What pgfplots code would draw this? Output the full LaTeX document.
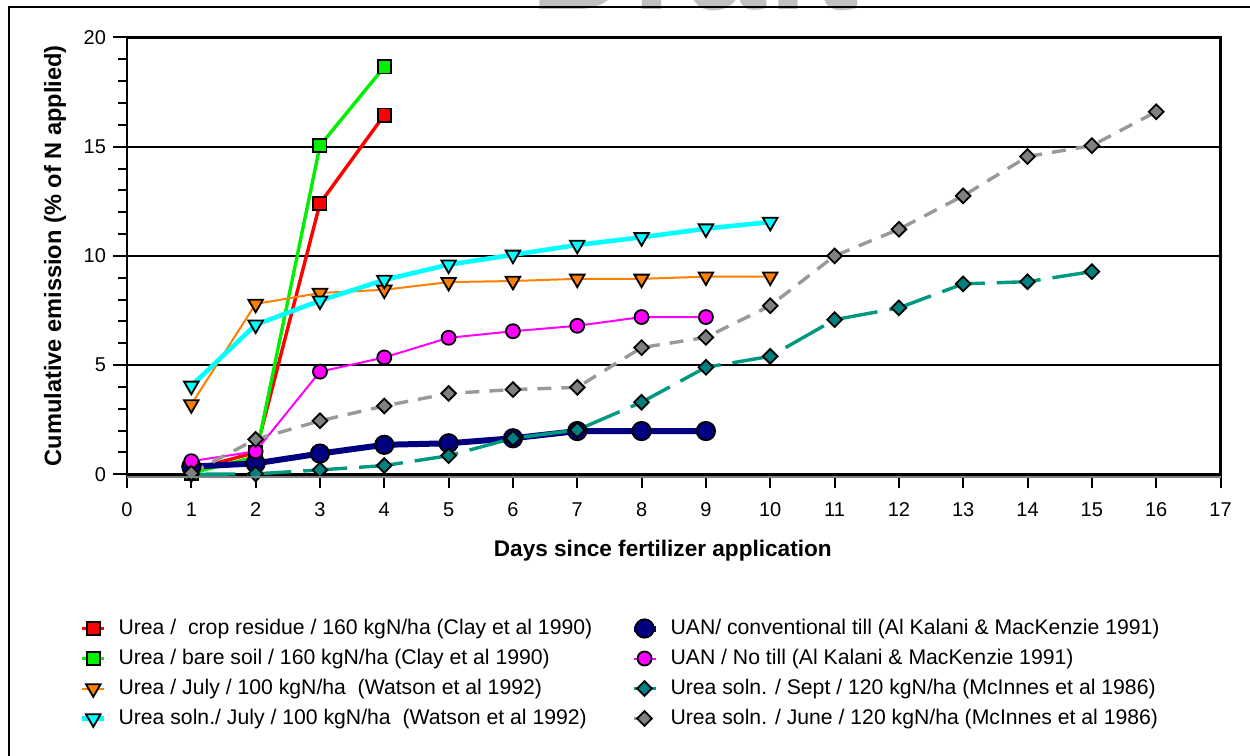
\documentclass[border=0pt]{standalone}
\usepackage{fontspec}
\setmainfont{Liberation Sans}
\usepackage{pgfplots}
\usepackage{pgfplotstable}
\pgfplotsset{compat=1.18}

\definecolor{cRed}{RGB}{255,0,0}
\definecolor{cGreen}{RGB}{0,240,0}
\definecolor{cOrange}{RGB}{255,128,0}
\definecolor{cCyan}{RGB}{0,255,255}
\definecolor{cNavy}{RGB}{0,0,128}
\definecolor{cMagenta}{RGB}{255,0,255}
\definecolor{cTealLine}{RGB}{0,153,128}
\definecolor{cTealMark}{RGB}{0,128,128}
\definecolor{cGrayLine}{RGB}{153,153,153}
\definecolor{cGrayMark}{RGB}{128,128,128}
\definecolor{cWater}{RGB}{192,192,192}

% cumulative NH3 emission, % of applied N, by day
\pgfplotstableread{
day val
1 0.2
2 1.0
3 12.4
4 16.45
}\tabRed
\pgfplotstableread{
day val
1 0.05
2 0.8
3 15.05
4 18.65
}\tabGreen
\pgfplotstableread{
day val
1 3.2
2 7.8
3 8.3
4 8.45
5 8.8
6 8.85
7 8.95
8 8.95
9 9.05
10 9.05
}\tabOrange
\pgfplotstableread{
day val
1 4.05
2 6.85
3 7.95
4 8.9
5 9.6
6 10.05
7 10.5
8 10.85
9 11.25
10 11.55
}\tabCyan
\pgfplotstableread{
day val
1 0.35
2 0.5
3 0.95
4 1.35
5 1.42
6 1.65
7 1.98
8 1.98
9 1.98
}\tabNavy
\pgfplotstableread{
day val
1 0.6
2 1.05
3 4.7
4 5.35
5 6.25
6 6.55
7 6.8
8 7.2
9 7.2
}\tabMagenta
\pgfplotstableread{
day val
1 0.0
2 0.02
3 0.2
4 0.4
5 0.85
6 1.65
7 2.03
8 3.3
9 4.9
10 5.4
11 7.08
12 7.62
13 8.72
14 8.82
15 9.28
}\tabTeal
\pgfplotstableread{
day val
1 0.05
2 1.6
3 2.45
4 3.13
5 3.7
6 3.88
7 3.98
8 5.8
9 6.27
10 7.72
11 10.0
12 11.22
13 12.75
14 14.55
15 15.05
16 16.6
}\tabGray

\pgfplotsset{
  short legend/.style={legend image code/.code={
    \draw[mark repeat=2,mark phase=2] plot coordinates {(0pt,0pt)(5.5pt,0pt)(11pt,0pt)};}},
  % filled marker with black outline, optional rotation
  mk/.style 2 args={mark options={solid, draw=black, line width=0.9pt, fill=#1, rotate=#2}},
}
\newcommand{\entry}[1]{\makebox[250pt][l]{#1}}

\begin{document}
\begin{tikzpicture}
\path[use as bounding box] (0,0) rectangle (625pt,378pt);

% watermark behind the frame
\node[anchor=base, text=cWater, font=\bfseries\fontsize{70.5}{80}\selectfont, inner sep=0pt]
  at (347.5pt,373pt) {Draft};
% outer frame
\draw[line width=1pt] (4.5pt,-10pt) -- (4.5pt,374.5pt) -- (640pt,374.5pt);

\begin{axis}[
  at={(63.5pt,140.85pt)}, anchor=south west,
  scale only axis, width=546.75pt, height=218.4pt,
  xmin=0, xmax=17, ymin=0, ymax=20,
  xtick={0,...,17}, ytick={0,5,10,15,20}, minor ytick={1,...,19},
  tick pos=left, tick align=outside,
  major tick length=7pt, minor tick length=4.5pt,
  tick style={black, line width=1pt},
  ymajorgrids, major grid style={black, line width=1pt},
  axis line style={black, line width=1.25pt},
  /pgf/number format/assume math mode=true,
  ticklabel style={font=\fontsize{10}{12}\selectfont},
  xticklabel style={yshift=-3.5pt},
  xlabel={Days since fertilizer application},
  ylabel={Cumulative emission (\% of N applied)},
  label style={font=\bfseries\fontsize{11.3}{13}\selectfont},
  xlabel style={at={(axis description cs:0.49,-0.1756)}, anchor=center},
  ylabel style={at={(axis description cs:-0.0658,0.5)}, anchor=center, font=\bfseries\fontsize{11.8}{13}\selectfont},
  clip=false,
  short legend,
  legend columns=4, transpose legend,
  legend style={at={(axis description cs:-0.043,-0.329)}, anchor=north west,
    draw=none, fill=none, inner sep=0pt, outer sep=0pt,
    column sep=6pt, row sep=4.5pt,
    nodes={inner sep=0pt, text height=8pt, text depth=2.5pt},
    font=\fontsize{10.6}{12.7}\selectfont},
  legend cell align=left,
]
\addplot[cRed, line width=1.7pt, mark=square*, mark size=3.3pt, mk={cRed}{0}]
  table[x=day, y=val] {\tabRed};
\addlegendentry{\entry{Urea /\ \ crop residue / 160 kgN/ha (Clay et al 1990)}}
\addplot[cGreen, line width=1.7pt, mark=square*, mark size=3.3pt, mk={cGreen}{0}]
  table[x=day, y=val] {\tabGreen};
\addlegendentry{\entry{Urea / bare soil / 160 kgN/ha (Clay et al 1990)}}
\addplot[cOrange, line width=1pt, mark=triangle*, mark size=4.2pt, mk={cOrange}{180}]
  table[x=day, y=val] {\tabOrange};
\addlegendentry{\entry{Urea / July / 100 kgN/ha\ \ (Watson et al 1992)}}
\addplot[cCyan, line width=2.3pt, mark=triangle*, mark size=4.2pt, mk={cCyan}{180}]
  table[x=day, y=val] {\tabCyan};
\addlegendentry{\entry{Urea soln./ July / 100 kgN/ha\ \ (Watson et al 1992)}}
\addplot[cNavy, line width=3pt, mark=*, mark size=4.6pt, mk={cNavy}{0}]
  table[x=day, y=val] {\tabNavy};
\addlegendentry{\entry{UAN/ conventional till (Al Kalani \& MacKenzie 1991)}}
\addplot[cMagenta, line width=1pt, mark=*, mark size=3.5pt, mk={cMagenta}{0}]
  table[x=day, y=val] {\tabMagenta};
\addlegendentry{\entry{UAN / No till (Al Kalani \& MacKenzie 1991)}}
\addplot[cTealLine, line width=1.7pt, dash pattern=on 22pt off 6pt, mark=square*, mark size=2.6pt, mk={cTealMark}{45}]
  table[x=day, y=val] {\tabTeal};
\addlegendentry{\entry{Urea soln. / Sept / 120 kgN/ha (McInnes et al 1986)}}
\addplot[cGrayLine, line width=1.7pt, dash pattern=on 7pt off 5pt, mark=square*, mark size=2.6pt, mk={cGrayMark}{45}]
  table[x=day, y=val] {\tabGray};
\addlegendentry{\entry{Urea soln. / June / 120 kgN/ha (McInnes et al 1986)}}
\end{axis}
% grey base line under the x axis
\draw[gray, line width=1pt] (63.5pt,139.6pt) -- (610.25pt,139.6pt);
\end{tikzpicture}
\end{document}
